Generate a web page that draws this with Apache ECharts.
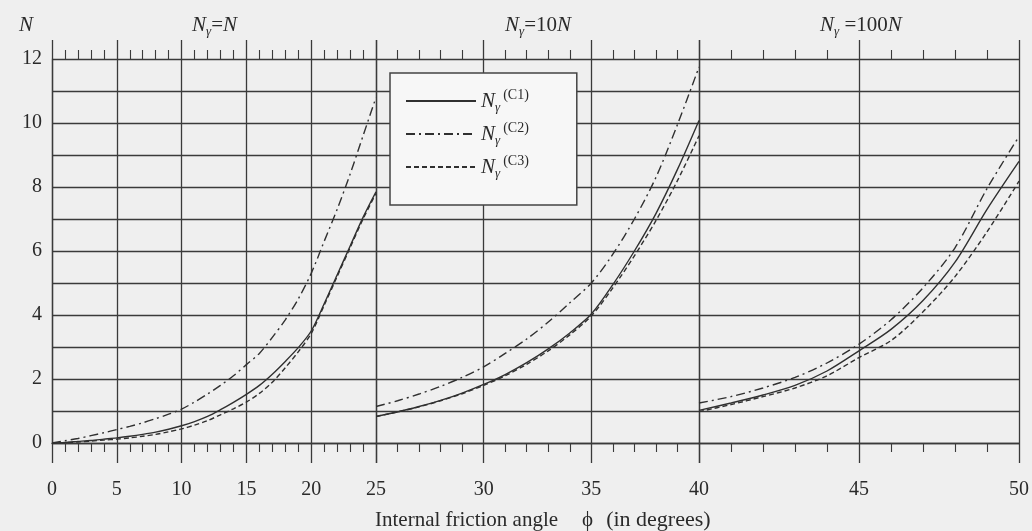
<!DOCTYPE html>
<html>
<head>
<meta charset="utf-8">
<script src="https://cdn.jsdelivr.net/npm/echarts@6/dist/echarts.min.js"></script>
<style>
  html, body { margin: 0; padding: 0; background: #efefef; }
  #chart { width: 1032px; height: 531px; }
</style>
</head>
<body>
<div id="chart"></div>
<script>
// ---------- data ----------
// Segment 1: phi 0..25, N_gamma = N
const phiSeg1 = [0,1,2,3,4,5,6,7,8,9,10,11,12,13,14,15,16,17,18,19,20,21,22,23,24,25];
const c1Seg1 = [0,0.02,0.05,0.08,0.12,0.16,0.21,0.27,0.34,0.43,0.54,0.67,0.83,1.04,1.27,1.52,1.8,2.15,2.55,2.98,3.5,4.35,5.25,6.15,7.05,7.85];
const c2Seg1 = [0,0.07,0.14,0.23,0.32,0.42,0.52,0.63,0.76,0.9,1.06,1.28,1.53,1.8,2.1,2.45,2.8,3.3,3.85,4.5,5.3,6.3,7.3,8.4,9.6,10.8];
const c3Seg1 = [0,0.01,0.03,0.06,0.09,0.12,0.16,0.21,0.27,0.35,0.44,0.56,0.7,0.88,1.07,1.28,1.55,1.9,2.35,2.85,3.42,4.3,5.2,6.1,7.0,7.8];
// Segment 2: phi 25..40, N_gamma = 10N
const phiSeg2 = [25,26,27,28,29,30,31,32,33,34,35,36,37,38,39,40];
const c1Seg2 = [0.83,0.97,1.14,1.33,1.56,1.83,2.14,2.51,2.94,3.44,4.03,4.95,6.0,7.17,8.55,10.08];
const c2Seg2 = [1.14,1.32,1.53,1.77,2.05,2.38,2.8,3.25,3.78,4.38,5.0,5.9,7.0,8.3,9.95,11.75];
const c3Seg2 = [0.83,0.97,1.13,1.32,1.54,1.8,2.1,2.46,2.88,3.38,3.97,4.85,5.85,6.95,8.2,9.6];
// Segment 3: phi 40..50, N_gamma = 100N
const phiSeg3 = [40,41,42,43,44,45,46,47,48,49,50];
const c1Seg3 = [1.02,1.25,1.5,1.8,2.25,2.88,3.55,4.45,5.65,7.3,8.8];
const c2Seg3 = [1.25,1.45,1.72,2.05,2.5,3.09,3.85,4.85,6.1,7.95,9.58];
const c3Seg3 = [0.98,1.2,1.45,1.72,2.1,2.67,3.2,4.1,5.2,6.6,8.18];
// axes
const segRanges = [[0,25],[25,40],[40,50]];
const yTicks = [0,2,4,6,8,10,12];
const seriesNames = ['C1','C2','C3'];
const headerFactors = ['', '10', '100'];

// ---------- styling ----------
const FONT = 'Liberation Serif';
const INK = '#2a2a2a';
const GRIDC = '#3a3a3a';
const lineTypes = { C1: 'solid', C2: [9,4,2,4], C3: [5,3] };

const gridBoxes = [
  { left: 52, width: 324 },
  { left: 376, width: 323 },
  { left: 699, width: 324 }
];

const grids = gridBoxes.map(g => ({ left: g.left, width: g.width, top: 59, bottom: 88, containLabel: false }));

const xAxes = [];
segRanges.forEach((r, i) => {
  xAxes.push({
    type: 'value', gridIndex: i, position: 'bottom', min: r[0], max: r[1], interval: 5,
    axisLine: { show: true, lineStyle: { color: GRIDC, width: 1.3 } },
    axisTick: { show: true, length: 20, inside: false, lineStyle: { color: GRIDC, width: 1.3 } },
    minorTick: { show: true, splitNumber: 5, length: 9, lineStyle: { color: GRIDC, width: 1.1 } },
    axisLabel: { show: true, margin: 37, fontFamily: FONT, fontSize: 20, color: INK, showMinLabel: i === 0 },
    splitLine: { show: true, lineStyle: { color: GRIDC, width: 1.3 } }
  });
  xAxes.push({
    type: 'value', gridIndex: i, position: 'top', min: r[0], max: r[1], interval: 5,
    axisLine: { show: false },
    axisTick: { show: true, length: 19, inside: false, lineStyle: { color: GRIDC, width: 1.3 } },
    minorTick: { show: true, splitNumber: 5, length: 9, lineStyle: { color: GRIDC, width: 1.1 } },
    axisLabel: { show: false },
    splitLine: { show: false }
  });
});

const yAxes = segRanges.map((r, i) => ({
  type: 'value', gridIndex: i, min: 0, max: 12, interval: 1,
  axisLine: { show: i === 0, lineStyle: { color: GRIDC, width: 1.3 } },
  axisTick: { show: false },
  axisLabel: {
    show: i === 0, margin: 10, fontFamily: FONT, fontSize: 20, color: INK,
    padding: [10, 0, 0, 0],
    formatter: v => (yTicks.indexOf(v) >= 0 ? String(v) : '')
  },
  splitLine: { show: true, lineStyle: { color: GRIDC, width: 1.3 } }
}));

const segData = [
  { phi: phiSeg1, C1: c1Seg1, C2: c2Seg1, C3: c3Seg1 },
  { phi: phiSeg2, C1: c1Seg2, C2: c2Seg2, C3: c3Seg2 },
  { phi: phiSeg3, C1: c1Seg3, C2: c2Seg3, C3: c3Seg3 }
];

const series = [];
segData.forEach((seg, i) => {
  seriesNames.forEach(name => {
    series.push({
      name: name, type: 'line', xAxisIndex: i * 2, yAxisIndex: i,
      data: seg.phi.map((x, k) => [x, seg[name][k]]),
      symbol: 'none', smooth: 0.3, silent: true, z: 5,
      lineStyle: { color: '#303030', width: 1.4, type: lineTypes[name] },
      itemStyle: { color: '#303030' }
    });
  });
});

const richText = {
  i: { fontFamily: FONT, fontStyle: 'italic', fontWeight: 'normal', fontSize: 21, color: INK, lineHeight: 26, verticalAlign: 'middle' },
  g: { fontFamily: FONT, fontStyle: 'italic', fontWeight: 'normal', fontSize: 13, color: INK, verticalAlign: 'bottom', lineHeight: 14 },
  r: { fontFamily: FONT, fontWeight: 'normal', fontSize: 21, color: INK, lineHeight: 26, verticalAlign: 'middle' }
};

const titles = [
  { text: '{i|N}', left: 14, top: 7, textStyle: { fontWeight: 'normal', rich: richText } },
  { text: '{i|N}{g|γ}{r|=' + headerFactors[0] + '}{i|N}', left: 187, top: 7, textStyle: { fontWeight: 'normal', rich: richText } },
  { text: '{i|N}{g|γ}{r|=' + headerFactors[1] + '}{i|N}', left: 500, top: 7, textStyle: { fontWeight: 'normal', rich: richText } },
  { text: '{i|N}{g|γ}{r| =' + headerFactors[2] + '}{i|N}', left: 815, top: 7, textStyle: { fontWeight: 'normal', rich: richText } },
  { text: '{a|Internal friction angle}{b|\u03d5}{c|(in degrees)}', left: 370, top: 504,
    textStyle: { fontWeight: 'normal', rich: {
      a: { fontFamily: FONT, fontSize: 21, color: INK, fontWeight: 'normal' },
      b: { fontFamily: FONT, fontSize: 21, color: INK, fontWeight: 'normal', padding: [0, 0, 0, 24] },
      c: { fontFamily: FONT, fontSize: 22, color: INK, fontWeight: 'normal', padding: [0, 0, 0, 13] }
    } } }
];

const chart = echarts.init(document.getElementById('chart'), null, { renderer: 'canvas' });
chart.setOption({
  backgroundColor: '#efefef',
  animation: false,
  title: titles,
  grid: grids,
  xAxis: xAxes,
  yAxis: yAxes,
  legend: {
    data: seriesNames,
    orient: 'vertical',
    left: 390, top: 73,
    padding: [15, 48, 25, 15],
    itemWidth: 70, itemHeight: 14, itemGap: 7,
    backgroundColor: '#f7f7f7', borderColor: '#444', borderWidth: 1.5,
    selectedMode: false,
    itemStyle: { opacity: 0, borderWidth: 0 },
    formatter: name => '{n|N}{g|γ}{s|(' + name + ')}',
    textStyle: {
      rich: {
        n: { fontFamily: FONT, fontStyle: 'italic', fontSize: 21, color: INK, lineHeight: 26, verticalAlign: 'middle' },
        g: { fontFamily: FONT, fontStyle: 'italic', fontSize: 13, color: INK, verticalAlign: 'bottom', lineHeight: 13 },
        s: { fontFamily: FONT, fontSize: 14, color: INK, verticalAlign: 'top', lineHeight: 14, padding: [0, 0, 0, 3] }
      }
    }
  },
  series: series
});
</script>
</body>
</html>
